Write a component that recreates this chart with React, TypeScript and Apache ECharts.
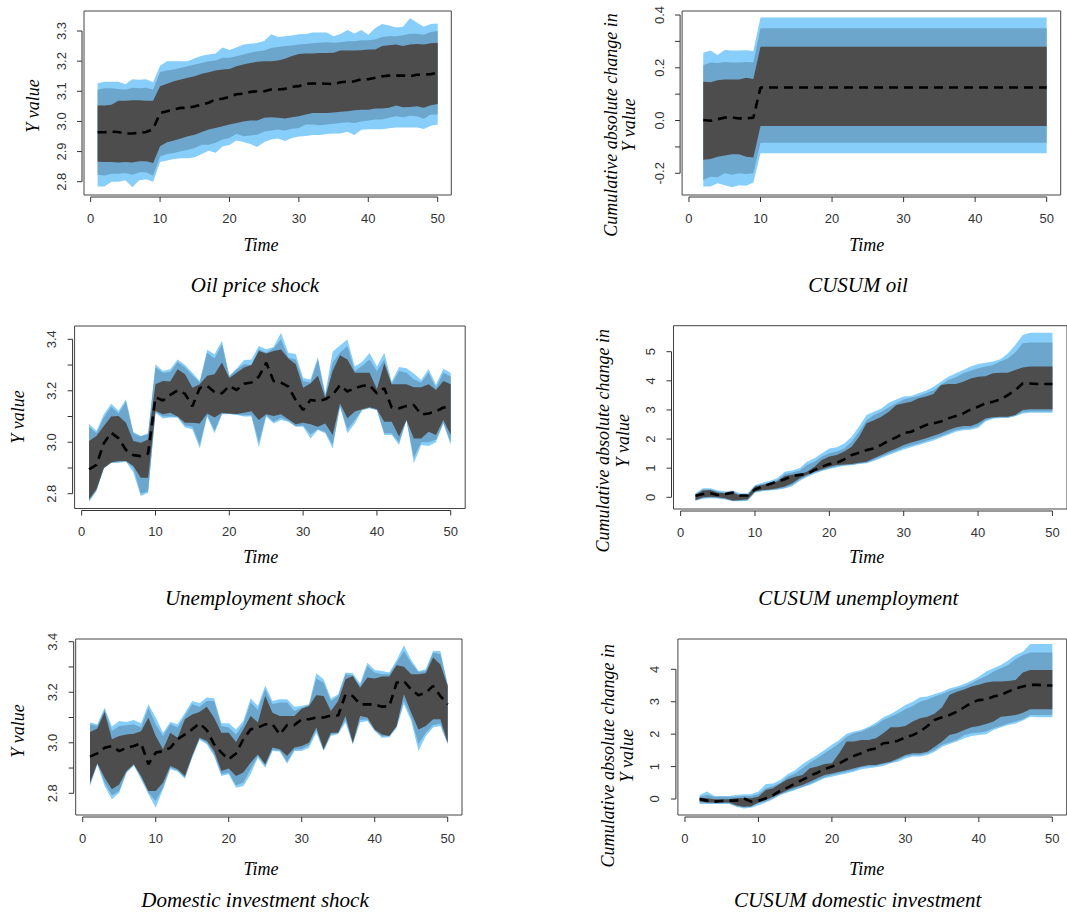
import React, { useEffect, useRef } from "react";
import * as echarts from "echarts";

// ---------- time axes ----------
const T50 = Array.from({ length: 50 }, (_, i) => i + 1);
const T49 = Array.from({ length: 49 }, (_, i) => i + 2);
const X_TICKS = [0, 10, 20, 30, 40, 50];
const X_TICK_LABELS = ["0", "10", "20", "30", "40", "50"];

// ---------- Oil price shock ----------
const oilMed = [2.964,2.964,2.966,2.965,2.96,2.96,2.962,2.965,2.975,3.028,3.034,3.04,3.045,3.045,3.05,3.056,3.062,3.073,3.075,3.082,3.09,3.092,3.098,3.1,3.1,3.106,3.106,3.108,3.115,3.117,3.125,3.126,3.126,3.125,3.124,3.13,3.132,3.133,3.14,3.14,3.145,3.15,3.152,3.152,3.152,3.15,3.155,3.155,3.157,3.162];
const oilOutHi = [3.127,3.132,3.132,3.132,3.123,3.14,3.138,3.14,3.13,3.185,3.2,3.2,3.2,3.2,3.21,3.218,3.222,3.225,3.245,3.237,3.245,3.255,3.258,3.26,3.267,3.289,3.28,3.283,3.285,3.289,3.29,3.295,3.295,3.295,3.283,3.29,3.303,3.292,3.303,3.288,3.31,3.323,3.318,3.312,3.314,3.342,3.328,3.314,3.323,3.325];
const oilMidHi = [3.105,3.11,3.11,3.108,3.105,3.112,3.11,3.112,3.105,3.164,3.169,3.172,3.178,3.183,3.189,3.194,3.2,3.202,3.211,3.211,3.216,3.222,3.228,3.233,3.235,3.244,3.247,3.25,3.252,3.255,3.257,3.259,3.261,3.263,3.261,3.263,3.266,3.266,3.269,3.269,3.272,3.28,3.283,3.283,3.286,3.291,3.291,3.288,3.297,3.3];
const oilInHi = [3.053,3.053,3.055,3.069,3.069,3.07,3.07,3.069,3.069,3.117,3.125,3.133,3.139,3.145,3.15,3.158,3.163,3.169,3.172,3.174,3.183,3.189,3.194,3.198,3.2,3.2,3.202,3.208,3.217,3.224,3.225,3.225,3.227,3.227,3.228,3.235,3.235,3.235,3.236,3.239,3.239,3.25,3.253,3.255,3.25,3.255,3.257,3.255,3.259,3.261];
const oilInLo = [2.866,2.865,2.865,2.864,2.865,2.864,2.868,2.868,2.862,2.918,2.931,2.937,2.943,2.951,2.956,2.965,2.973,2.978,2.984,2.99,2.995,3.0,3.003,3.003,3.012,3.014,3.012,3.01,3.014,3.017,3.023,3.028,3.028,3.028,3.03,3.032,3.034,3.037,3.039,3.039,3.043,3.043,3.045,3.053,3.047,3.048,3.05,3.045,3.054,3.058];
const oilMidLo = [2.823,2.821,2.826,2.826,2.829,2.823,2.831,2.831,2.82,2.884,2.892,2.895,2.901,2.906,2.912,2.923,2.923,2.929,2.94,2.945,2.959,2.951,2.953,2.956,2.967,2.97,2.973,2.97,2.976,2.978,2.99,2.99,2.987,2.99,2.992,2.995,2.997,2.995,3.0,3.003,3.006,3.006,3.012,3.017,3.014,3.019,3.017,3.009,3.023,3.023];
const oilOutLo = [2.784,2.784,2.8,2.8,2.805,2.782,2.805,2.808,2.8,2.865,2.87,2.875,2.878,2.878,2.881,2.892,2.903,2.896,2.917,2.922,2.937,2.932,2.925,2.915,2.932,2.94,2.943,2.935,2.945,2.95,2.952,2.955,2.955,2.958,2.96,2.96,2.966,2.955,2.972,2.974,2.974,2.974,2.977,2.98,2.98,2.98,2.98,2.975,2.986,2.99];
const oilYTicks = [2.8, 2.9, 3.0, 3.1, 3.2, 3.3];
const oilYLabels = ["2.8", "2.9", "3.0", "3.1", "3.2", "3.3"];

// ---------- CUSUM oil (t = 2..50) ----------
const cOilMed = [0.002,-0.001,0.005,0.011,0.012,0.008,0.008,0.011,
  0.125,0.125,0.125,0.125,0.125,0.125,0.125,0.125,0.125,0.125,
  0.125,0.125,0.125,0.125,0.125,0.125,0.125,0.125,0.125,0.125,
  0.125,0.125,0.125,0.125,0.125,0.125,0.125,0.125,0.125,0.125,
  0.125,0.125,0.125,0.125,0.125,0.125,0.125,0.125,0.125,0.125,0.125];
const cOilOutHi = [0.257,0.265,0.248,0.267,0.265,0.265,0.266,0.264,
  0.391,0.391,0.391,0.391,0.391,0.391,0.391,0.391,0.391,0.391,
  0.391,0.391,0.391,0.391,0.391,0.391,0.391,0.391,0.391,0.391,
  0.391,0.391,0.391,0.391,0.391,0.391,0.391,0.391,0.391,0.391,
  0.391,0.391,0.391,0.391,0.391,0.391,0.391,0.391,0.391,0.391,0.391];
const cOilMidHi = [0.21,0.22,0.218,0.222,0.22,0.22,0.222,0.22,
  0.35,0.35,0.35,0.35,0.35,0.35,0.35,0.35,0.35,0.35,
  0.35,0.35,0.35,0.35,0.35,0.35,0.35,0.35,0.35,0.35,
  0.35,0.35,0.35,0.35,0.35,0.35,0.35,0.35,0.35,0.35,
  0.35,0.35,0.35,0.35,0.35,0.35,0.35,0.35,0.35,0.35,0.35];
const cOilInHi = [0.147,0.145,0.153,0.156,0.156,0.156,0.162,0.157,
  0.28,0.28,0.28,0.28,0.28,0.28,0.28,0.28,0.28,0.28,
  0.28,0.28,0.28,0.28,0.28,0.28,0.28,0.28,0.28,0.28,
  0.28,0.28,0.28,0.28,0.28,0.28,0.28,0.28,0.28,0.28,
  0.28,0.28,0.28,0.28,0.28,0.28,0.28,0.28,0.28,0.28,0.28];
const cOilInLo = [-0.149,-0.146,-0.137,-0.133,-0.128,-0.128,-0.137,-0.14,
  -0.021,-0.021,-0.021,-0.021,-0.021,-0.021,-0.021,-0.021,-0.021,-0.021,
  -0.021,-0.021,-0.021,-0.021,-0.021,-0.021,-0.021,-0.021,-0.021,-0.021,
  -0.021,-0.021,-0.021,-0.021,-0.021,-0.021,-0.021,-0.021,-0.021,-0.021,
  -0.021,-0.021,-0.021,-0.021,-0.021,-0.021,-0.021,-0.021,-0.021,-0.021,-0.021];
const cOilMidLo = [-0.225,-0.213,-0.215,-0.2,-0.206,-0.2,-0.203,-0.2,
  -0.084,-0.084,-0.084,-0.084,-0.084,-0.084,-0.084,-0.084,-0.084,-0.084,
  -0.084,-0.084,-0.084,-0.084,-0.084,-0.084,-0.084,-0.084,-0.084,-0.084,
  -0.084,-0.084,-0.084,-0.084,-0.084,-0.084,-0.084,-0.084,-0.084,-0.084,
  -0.084,-0.084,-0.084,-0.084,-0.084,-0.084,-0.084,-0.084,-0.084,-0.084,-0.084];
const cOilOutLo = [-0.25,-0.25,-0.238,-0.245,-0.253,-0.245,-0.247,-0.235,
  -0.124,-0.124,-0.124,-0.124,-0.124,-0.124,-0.124,-0.124,-0.124,-0.124,
  -0.124,-0.124,-0.124,-0.124,-0.124,-0.124,-0.124,-0.124,-0.124,-0.124,
  -0.124,-0.124,-0.124,-0.124,-0.124,-0.124,-0.124,-0.124,-0.124,-0.124,
  -0.124,-0.124,-0.124,-0.124,-0.124,-0.124,-0.124,-0.124,-0.124,-0.124,-0.124];
const cOilYTicks = [-0.2, -0.1, 0.0, 0.1, 0.2, 0.3, 0.4];
const cOilYLabels = ["-0.2", "", "0.0", "", "0.2", "", "0.4"];

// ---------- Unemployment shock ----------
const unMed = [2.895,2.912,2.996,3.037,3.015,2.97,2.95,2.946,2.956,3.175,3.162,3.184,3.202,3.188,3.14,3.211,3.219,3.195,3.19,3.219,3.203,3.227,3.232,3.255,3.309,3.238,3.232,3.216,3.164,3.125,3.164,3.16,3.167,3.184,3.222,3.197,3.21,3.219,3.222,3.19,3.21,3.135,3.132,3.141,3.145,3.108,3.112,3.119,3.135,3.135];
const unOutHi = [3.072,3.044,3.109,3.15,3.122,3.167,3.04,3.024,3.035,3.303,3.277,3.284,3.322,3.3,3.27,3.238,3.359,3.342,3.394,3.258,3.287,3.32,3.322,3.374,3.361,3.37,3.425,3.348,3.343,3.25,3.244,3.33,3.19,3.352,3.376,3.399,3.294,3.313,3.347,3.294,3.348,3.236,3.292,3.288,3.267,3.242,3.285,3.223,3.286,3.269];
const unMidHi = [3.06,3.035,3.096,3.138,3.112,3.157,3.035,3.022,3.031,3.29,3.27,3.273,3.312,3.29,3.26,3.232,3.348,3.325,3.381,3.255,3.284,3.303,3.3,3.361,3.348,3.365,3.4,3.329,3.322,3.238,3.232,3.322,3.18,3.31,3.348,3.374,3.277,3.297,3.322,3.277,3.322,3.225,3.277,3.27,3.245,3.232,3.27,3.212,3.27,3.255];
const unInHi = [3.005,3.024,3.063,3.1,3.102,3.076,3.005,2.998,3.011,3.225,3.238,3.236,3.284,3.264,3.212,3.225,3.258,3.264,3.31,3.25,3.27,3.29,3.3,3.355,3.345,3.355,3.36,3.325,3.303,3.212,3.228,3.258,3.173,3.277,3.338,3.322,3.27,3.27,3.27,3.206,3.307,3.225,3.225,3.225,3.214,3.214,3.225,3.203,3.238,3.225];
const unInLo = [2.778,2.817,2.9,2.921,2.927,2.927,2.908,2.862,2.862,3.122,3.109,3.115,3.1,3.076,3.076,3.073,3.112,3.096,3.115,3.112,3.11,3.115,3.12,3.086,3.109,3.102,3.109,3.089,3.07,3.076,3.07,3.06,3.073,3.028,3.151,3.093,3.119,3.128,3.136,3.128,3.08,3.08,3.022,3.086,3.015,3.015,3.041,3.028,3.086,3.028];
const unMidLo = [2.772,2.814,2.9,2.921,2.922,2.926,2.9,2.8,2.81,3.118,3.1,3.1,3.098,3.065,3.06,2.99,3.105,3.045,3.11,3.11,3.108,3.105,3.105,3.0,3.105,3.08,3.095,3.083,3.062,3.065,3.03,3.05,3.04,2.99,3.14,3.05,3.085,3.125,3.133,3.125,3.035,3.035,3.0,3.086,2.94,3.0,3.0,3.01,3.075,3.0];
const unOutLo = [2.77,2.81,2.898,2.92,2.92,2.924,2.882,2.791,2.804,3.115,3.092,3.096,3.095,3.057,3.05,2.976,3.1,3.035,3.108,3.11,3.106,3.1,3.1,2.98,3.1,3.073,3.086,3.08,3.06,3.06,3.015,3.048,3.035,2.976,3.138,3.035,3.073,3.125,3.132,3.125,3.028,3.028,2.989,3.086,2.918,2.989,2.985,3.0,3.073,2.989];
const unYTicks = [2.8, 2.9, 3.0, 3.1, 3.2, 3.3, 3.4];
const unYLabels = ["2.8", "", "3.0", "", "3.2", "", "3.4"];

// ---------- CUSUM unemployment (t = 2..50) ----------
const cUnMed = [0.05,0.11,0.14,0.08,0.11,0.16,0.06,0.06,0.27,0.37,0.46,0.54,0.62,0.73,0.77,0.8,0.94,1.05,1.14,1.19,1.3,1.45,1.53,1.62,1.68,1.8,1.95,2.06,2.2,2.25,2.37,2.48,2.54,2.6,2.71,2.79,2.88,3.02,3.11,3.23,3.28,3.36,3.51,3.68,3.91,3.91,3.89,3.89,3.89];
const cUnOutHi = [0.14,0.31,0.31,0.23,0.2,0.23,0.14,0.14,0.42,0.5,0.57,0.65,0.88,0.92,1.0,1.22,1.34,1.51,1.68,1.72,1.85,2.08,2.43,2.83,2.94,3.05,3.25,3.36,3.46,3.48,3.57,3.66,3.8,3.97,4.14,4.26,4.37,4.49,4.58,4.62,4.66,4.74,4.94,5.23,5.57,5.65,5.65,5.65,5.65];
const cUnMidHi = [0.11,0.27,0.27,0.2,0.16,0.2,0.08,0.08,0.39,0.46,0.5,0.6,0.8,0.85,0.92,1.11,1.22,1.4,1.51,1.57,1.68,1.91,2.25,2.65,2.83,2.94,3.09,3.23,3.36,3.43,3.48,3.57,3.68,3.86,4.03,4.12,4.26,4.35,4.43,4.49,4.54,4.66,4.77,4.97,5.29,5.32,5.32,5.32,5.32];
const cUnInHi = [0.08,0.23,0.25,0.16,0.14,0.16,0.07,0.07,0.37,0.42,0.48,0.54,0.73,0.77,0.8,0.88,1.05,1.28,1.4,1.45,1.57,1.74,2.08,2.54,2.65,2.77,2.94,3.17,3.23,3.28,3.4,3.46,3.55,3.86,3.89,3.89,3.97,4.08,4.14,4.16,4.26,4.28,4.28,4.37,4.46,4.49,4.49,4.49,4.49];
const cUnInLo = [-0.09,0.0,0.02,0.0,-0.03,-0.11,-0.09,-0.07,0.2,0.25,0.27,0.31,0.37,0.48,0.65,0.77,0.88,0.96,1.05,1.11,1.13,1.14,1.19,1.22,1.34,1.45,1.57,1.68,1.8,1.88,1.95,2.03,2.11,2.2,2.31,2.4,2.45,2.45,2.54,2.71,2.75,2.77,2.77,2.83,3.0,3.02,3.02,3.02,3.02];
const cUnMidLo = [-0.11,-0.03,-0.01,-0.02,-0.06,-0.13,-0.12,-0.1,0.18,0.23,0.25,0.28,0.33,0.42,0.6,0.73,0.84,0.92,1.0,1.06,1.1,1.12,1.16,1.19,1.29,1.4,1.5,1.6,1.7,1.78,1.85,1.93,2.01,2.1,2.2,2.3,2.35,2.37,2.45,2.65,2.72,2.74,2.74,2.8,2.93,2.95,2.95,2.95,2.95];
const cUnOutLo = [-0.12,-0.05,-0.03,-0.04,-0.08,-0.14,-0.14,-0.12,0.16,0.21,0.23,0.26,0.3,0.38,0.56,0.7,0.81,0.9,0.97,1.03,1.08,1.1,1.14,1.17,1.25,1.35,1.45,1.55,1.64,1.72,1.8,1.87,1.95,2.05,2.15,2.25,2.3,2.32,2.38,2.6,2.7,2.72,2.72,2.78,2.88,2.9,2.9,2.9,2.9];
const cUnYTicks = [0, 1, 2, 3, 4, 5];
const cUnYLabels = ["0", "1", "2", "3", "4", "5"];

// ---------- Domestic investment shock ----------
const dmMed = [2.945,2.958,2.98,2.987,2.967,2.98,2.987,2.998,2.915,2.961,2.967,2.98,3.014,3.033,3.053,3.077,3.05,2.994,2.961,2.934,2.958,3.014,3.053,3.06,3.073,3.073,3.033,3.07,3.07,3.093,3.093,3.1,3.1,3.108,3.108,3.19,3.185,3.152,3.152,3.152,3.143,3.145,3.238,3.244,3.211,3.188,3.198,3.225,3.185,3.152];
const dmOutHi = [3.08,3.073,3.139,3.064,3.086,3.082,3.09,3.077,3.152,3.1,3.04,3.082,3.073,3.119,3.165,3.156,3.179,3.176,3.077,3.077,3.053,3.086,3.175,3.146,3.227,3.165,3.172,3.172,3.143,3.146,3.152,3.275,3.251,3.175,3.192,3.278,3.275,3.235,3.317,3.288,3.284,3.278,3.328,3.386,3.328,3.284,3.291,3.363,3.363,3.231];
const dmMidHi = [3.073,3.066,3.132,3.047,3.066,3.069,3.073,3.06,3.139,3.073,3.027,3.073,3.06,3.106,3.152,3.143,3.165,3.165,3.066,3.06,3.033,3.073,3.159,3.13,3.212,3.152,3.159,3.159,3.126,3.139,3.148,3.254,3.238,3.165,3.185,3.271,3.267,3.225,3.304,3.278,3.271,3.271,3.317,3.363,3.317,3.28,3.284,3.357,3.35,3.227];
const dmInHi = [3.043,3.056,3.122,3.014,3.027,3.033,3.036,3.046,3.099,3.027,2.974,3.04,3.02,3.093,3.112,3.122,3.143,3.099,3.04,3.04,3.003,3.053,3.106,3.08,3.185,3.119,3.106,3.106,3.106,3.135,3.146,3.188,3.185,3.126,3.165,3.251,3.264,3.218,3.258,3.254,3.262,3.262,3.307,3.301,3.271,3.271,3.275,3.337,3.31,3.225];
const dmInLo = [2.842,2.919,2.862,2.816,2.835,2.888,2.915,2.868,2.809,2.809,2.842,2.908,2.895,2.868,2.95,3.02,3.007,2.967,2.888,2.898,2.868,2.882,2.921,2.954,2.915,2.981,2.974,2.948,2.981,2.987,3.0,3.06,2.974,3.04,3.04,3.106,3.0,3.106,3.1,3.053,3.033,3.027,3.066,3.192,3.119,3.053,3.066,3.093,3.093,3.0];
const dmMidLo = [2.835,2.916,2.842,2.792,2.809,2.884,2.912,2.862,2.802,2.77,2.822,2.901,2.89,2.862,2.945,3.016,3.0,2.954,2.875,2.882,2.832,2.842,2.895,2.948,2.908,2.972,2.968,2.925,2.972,2.975,2.99,3.05,2.97,3.033,3.038,3.09,2.996,3.09,3.092,3.05,3.025,3.027,3.063,3.165,3.1,2.995,3.04,3.07,3.075,2.997];
const dmOutLo = [2.829,2.914,2.829,2.776,2.802,2.88,2.91,2.855,2.796,2.743,2.816,2.895,2.886,2.858,2.941,3.012,2.994,2.948,2.868,2.875,2.822,2.829,2.875,2.941,2.901,2.967,2.965,2.917,2.967,2.967,2.98,3.04,2.967,3.027,3.035,3.08,2.994,3.08,3.086,3.047,3.02,3.022,3.058,3.152,3.086,2.967,3.027,3.06,3.066,2.994];
const dmYTicks = [2.8, 2.9, 3.0, 3.1, 3.2, 3.3, 3.4];
const dmYLabels = ["2.8", "", "3.0", "", "3.2", "", "3.4"];

// ---------- CUSUM domestic investment (t = 2..50) ----------
const cDmMed = [0,-0.05,-0.08,-0.06,-0.05,-0.05,0.02,-0.08,-0.05,0.02,0.12,0.26,0.36,0.48,0.59,0.71,0.81,0.92,1.0,1.1,1.22,1.33,1.41,1.51,1.56,1.72,1.74,1.8,1.9,1.97,2.08,2.25,2.44,2.52,2.59,2.69,2.83,2.97,3.05,3.07,3.16,3.21,3.31,3.41,3.47,3.52,3.52,3.5,3.5];
const cDmOutHi = [0.12,0.23,0.09,0.09,0.09,0.12,0.15,0.15,0.23,0.46,0.48,0.59,0.77,0.89,1.08,1.22,1.36,1.51,1.67,1.82,2.01,2.08,2.13,2.23,2.35,2.52,2.62,2.75,2.9,3.0,3.14,3.16,3.24,3.31,3.41,3.47,3.55,3.65,3.77,3.93,4.03,4.13,4.27,4.44,4.54,4.78,4.78,4.78,4.78];
const cDmMidHi = [0.07,0.12,0.07,0.07,0.07,0.07,0.09,0.09,0.15,0.33,0.4,0.5,0.69,0.79,0.95,1.12,1.26,1.41,1.56,1.72,1.92,2.03,2.08,2.18,2.28,2.44,2.54,2.64,2.77,2.87,3.0,3.07,3.16,3.24,3.34,3.41,3.47,3.57,3.69,3.79,3.93,4.03,4.13,4.31,4.44,4.52,4.52,4.52,4.52];
const cDmInHi = [0.04,0.02,-0.01,-0.01,-0.01,0.02,0.03,0.02,0.07,0.28,0.33,0.48,0.61,0.69,0.74,0.95,1.0,1.08,1.1,1.41,1.77,1.77,1.82,1.82,1.87,2.03,2.21,2.21,2.25,2.39,2.49,2.54,2.64,2.83,3.21,3.31,3.38,3.47,3.52,3.59,3.62,3.62,3.64,3.67,3.9,3.98,3.98,3.98,3.98];
const cDmInLo = [-0.08,-0.11,-0.11,-0.11,-0.11,-0.19,-0.24,-0.22,-0.11,-0.03,0.07,0.17,0.28,0.36,0.43,0.53,0.64,0.74,0.79,0.84,0.89,0.95,1.0,1.05,1.05,1.1,1.15,1.25,1.36,1.41,1.41,1.46,1.61,1.77,1.97,2.03,2.13,2.21,2.25,2.31,2.39,2.54,2.56,2.59,2.66,2.77,2.77,2.77,2.77];
const cDmMidLo = [-0.11,-0.13,-0.13,-0.13,-0.13,-0.22,-0.26,-0.24,-0.13,-0.08,0.02,0.15,0.23,0.3,0.38,0.46,0.57,0.67,0.74,0.79,0.84,0.89,0.98,1.0,1.02,1.08,1.12,1.2,1.31,1.36,1.36,1.41,1.51,1.67,1.74,1.82,1.97,2.03,2.05,2.08,2.18,2.25,2.33,2.39,2.46,2.59,2.59,2.59,2.59];
const cDmOutLo = [-0.15,-0.15,-0.15,-0.15,-0.15,-0.24,-0.29,-0.27,-0.19,-0.11,-0.01,0.12,0.2,0.28,0.36,0.43,0.53,0.64,0.69,0.74,0.79,0.84,0.92,0.95,0.98,1.02,1.1,1.15,1.25,1.31,1.31,1.36,1.46,1.61,1.7,1.77,1.87,1.94,1.97,2.0,2.13,2.21,2.28,2.33,2.42,2.54,2.52,2.52,2.52];
const cDmYTicks = [0, 1, 2, 3, 4];
const cDmYLabels = ["0", "1", "2", "3", "4"];

// ---------- styling ----------
const C_OUT = "#87CEFA";
const C_MID = "#6CA6CD";
const C_IN = "#4D4D4D";
const AXIS_C = "#333333";
const TICK_FONT = '13px "Liberation Sans", Arial, sans-serif';
const TITLE_FONT = 'italic 18px "Liberation Serif", "Times New Roman", serif';
const CAPTION_FONT = 'italic 21px "Liberation Serif", "Times New Roman", serif';
const X_RANGE = [-0.96, 51.96];

const CUM_LABEL = ["Cumulative absolute change in", "Y value"];

const PANELS = [
  { t: T50, out: [oilOutLo, oilOutHi], mid: [oilMidLo, oilMidHi], inn: [oilInLo, oilInHi], med: oilMed,
    box: [84.0, 11, 367.3, 184], yr: [2.7559, 3.3664], yTicks: oilYTicks, yLabels: oilYLabels,
    yTitle: ["Y value"], yTitleX: [33], yTitleY: 106, timeX: 261, timeY: 245, caption: "Oil price shock", capX: 255, capY: 285 },
  { t: T49, out: [cOilOutLo, cOilOutHi], mid: [cOilMidLo, cOilMidHi], inn: [cOilInLo, cOilInHi], med: cOilMed,
    box: [682.1, 11, 378.6, 184], yr: [-0.2823, 0.4152], yTicks: cOilYTicks, yLabels: cOilYLabels,
    yTitle: CUM_LABEL, yTitleX: [610.7, 629.3], yTitleY: 125, timeX: 866.7, timeY: 245, caption: "CUSUM oil", capX: 858, capY: 285 },
  { t: T50, out: [unOutLo, unOutHi], mid: [unMidLo, unMidHi], inn: [unInLo, unInHi], med: unMed,
    box: [74.6, 326, 390.6, 182.5], yr: [2.7425, 3.4517], yTicks: unYTicks, yLabels: unYLabels,
    yTitle: ["Y value"], yTitleX: [18], yTitleY: 417, timeX: 260.7, timeY: 557.3, caption: "Unemployment shock", capX: 255, capY: 598.3 },
  { t: T49, out: [cUnOutLo, cUnOutHi], mid: [cUnMidLo, cUnMidHi], inn: [cUnInLo, cUnInHi], med: cUnMed,
    box: [673.5, 325.7, 397.9, 183.3], yr: [-0.402, 5.893], yTicks: cUnYTicks, yLabels: cUnYLabels,
    yTitle: CUM_LABEL, yTitleX: [603.3, 622.7], yTitleY: 440.8, timeX: 866.7, timeY: 557.3, caption: "CUSUM unemployment", capX: 858.3, capY: 598.3 },
  { t: T50, out: [dmOutLo, dmOutHi], mid: [dmMidLo, dmMidHi], inn: [dmInLo, dmInHi], med: dmMed,
    box: [75.7, 639, 386.3, 176], yr: [2.7141, 3.4107], yTicks: dmYTicks, yLabels: dmYLabels,
    yTitle: ["Y value"], yTitleX: [18.3], yTitleY: 731, timeX: 261, timeY: 868.5, caption: "Domestic investment shock", capX: 255, capY: 900 },
  { t: T49, out: [cDmOutLo, cDmOutHi], mid: [cDmMidLo, cDmMidHi], inn: [cDmInLo, cDmInHi], med: cDmMed,
    box: [677.9, 639, 388.8, 176], yr: [-0.493, 4.934], yTicks: cDmYTicks, yLabels: cDmYLabels,
    yTitle: CUM_LABEL, yTitleX: [608.3, 627.3], yTitleY: 755.8, timeX: 866.7, timeY: 868.5, caption: "CUSUM domestic investment", capX: 857.7, capY: 900 },
];

function bandSeries(gi: number, t: number[], lo: number[], hi: number[], color: string) {
  return {
    type: "custom", xAxisIndex: gi, yAxisIndex: gi, silent: true,
    data: [[t[0], lo[0]]],
    renderItem: (_p: any, api: any) => {
      const pts: number[][] = [];
      for (let i = 0; i < t.length; i++) pts.push(api.coord([t[i], hi[i]]));
      for (let i = t.length - 1; i >= 0; i--) pts.push(api.coord([t[i], lo[i]]));
      return { type: "polygon", shape: { points: pts }, style: { fill: color } };
    },
  };
}

function xAxisSeries(gi: number, yMin: number) {
  return {
    type: "custom", xAxisIndex: gi, yAxisIndex: gi, silent: true, clip: false,
    data: X_TICKS.map((v) => [v, yMin]),
    renderItem: (params: any, api: any) => {
      const i = params.dataIndex;
      const p = api.coord([X_TICKS[i], yMin]);
      const y0 = p[1] + 2;
      const children: any[] = [
        { type: "line", shape: { x1: p[0], y1: y0, x2: p[0], y2: y0 + 5 }, style: { stroke: AXIS_C, lineWidth: 1 } },
        { type: "text", x: p[0], y: y0 + 21, style: { text: X_TICK_LABELS[i], font: TICK_FONT, fill: AXIS_C, align: "center", verticalAlign: "middle" } },
      ];
      if (i === 0) {
        const q = api.coord([X_TICKS[X_TICKS.length - 1], yMin]);
        children.push({ type: "line", shape: { x1: p[0], y1: y0, x2: q[0], y2: y0 }, style: { stroke: AXIS_C, lineWidth: 1 } });
      }
      return { type: "group", children };
    },
  };
}

function yAxisSeries(gi: number, ticks: number[], labels: string[]) {
  const xMin = X_RANGE[0];
  return {
    type: "custom", xAxisIndex: gi, yAxisIndex: gi, silent: true, clip: false,
    data: ticks.map((v) => [xMin, v]),
    renderItem: (params: any, api: any) => {
      const i = params.dataIndex;
      const p = api.coord([xMin, ticks[i]]);
      const x0 = p[0] - 2;
      const children: any[] = [
        { type: "line", shape: { x1: x0, y1: p[1], x2: x0 - 5, y2: p[1] }, style: { stroke: AXIS_C, lineWidth: 1 } },
      ];
      if (labels[i]) {
        children.push({ type: "text", x: x0 - 21, y: p[1], rotation: Math.PI / 2,
          style: { text: labels[i], font: TICK_FONT, fill: AXIS_C, align: "center", verticalAlign: "middle" } });
      }
      if (i === 0) {
        const q = api.coord([xMin, ticks[ticks.length - 1]]);
        children.push({ type: "line", shape: { x1: x0, y1: p[1], x2: x0, y2: q[1] }, style: { stroke: AXIS_C, lineWidth: 1 } });
      }
      return { type: "group", children };
    },
  };
}

function txt(text: string, x: number, y: number, font: string, rot = 0) {
  return {
    type: "text", x, y, rotation: rot, silent: true,
    style: { text, font, fill: "#000", align: "center", verticalAlign: "middle", textAlign: "center", textVerticalAlign: "middle" },
  };
}

export default function App() {
  const ref = useRef<HTMLDivElement>(null);
  useEffect(() => {
    if (!ref.current) return;
    const chart = echarts.init(ref.current, undefined, { renderer: "svg" });
    const grid = PANELS.map((p) => ({
      left: p.box[0], top: p.box[1], width: p.box[2], height: p.box[3],
      show: true, borderColor: "#444", borderWidth: 1, backgroundColor: "transparent",
    }));
    const xAxis = PANELS.map((_p, i) => ({ type: "value", gridIndex: i, min: X_RANGE[0], max: X_RANGE[1], show: false }));
    const yAxis = PANELS.map((p, i) => ({ type: "value", gridIndex: i, min: p.yr[0], max: p.yr[1], show: false }));
    const series: any[] = [];
    const graphic: any[] = [];
    PANELS.forEach((p, gi) => {
      series.push(bandSeries(gi, p.t, p.out[0], p.out[1], C_OUT));
      series.push(bandSeries(gi, p.t, p.mid[0], p.mid[1], C_MID));
      series.push(bandSeries(gi, p.t, p.inn[0], p.inn[1], C_IN));
      series.push({
        type: "line", xAxisIndex: gi, yAxisIndex: gi, silent: true, symbol: "none", showSymbol: false,
        data: p.t.map((x, i) => [x, p.med[i]]),
        lineStyle: { color: "#000", width: 2.6, type: [9, 6] }, z: 5,
      });
      series.push(xAxisSeries(gi, p.yr[0]));
      series.push(yAxisSeries(gi, p.yTicks, p.yLabels));
      p.yTitle.forEach((s, k) => graphic.push(txt(s, p.yTitleX[k], p.yTitleY, TITLE_FONT, Math.PI / 2)));
      graphic.push(txt("Time", p.timeX, p.timeY, TITLE_FONT));
      graphic.push(txt(p.caption, p.capX, p.capY, CAPTION_FONT));
    });
    chart.setOption({ animation: false, backgroundColor: "#fff", grid, xAxis, yAxis, series, graphic });
    return () => chart.dispose();
  }, []);
  return <div ref={ref} style={{ position: "absolute", left: 0, top: 0, width: 1067, height: 914 }} />;
}
